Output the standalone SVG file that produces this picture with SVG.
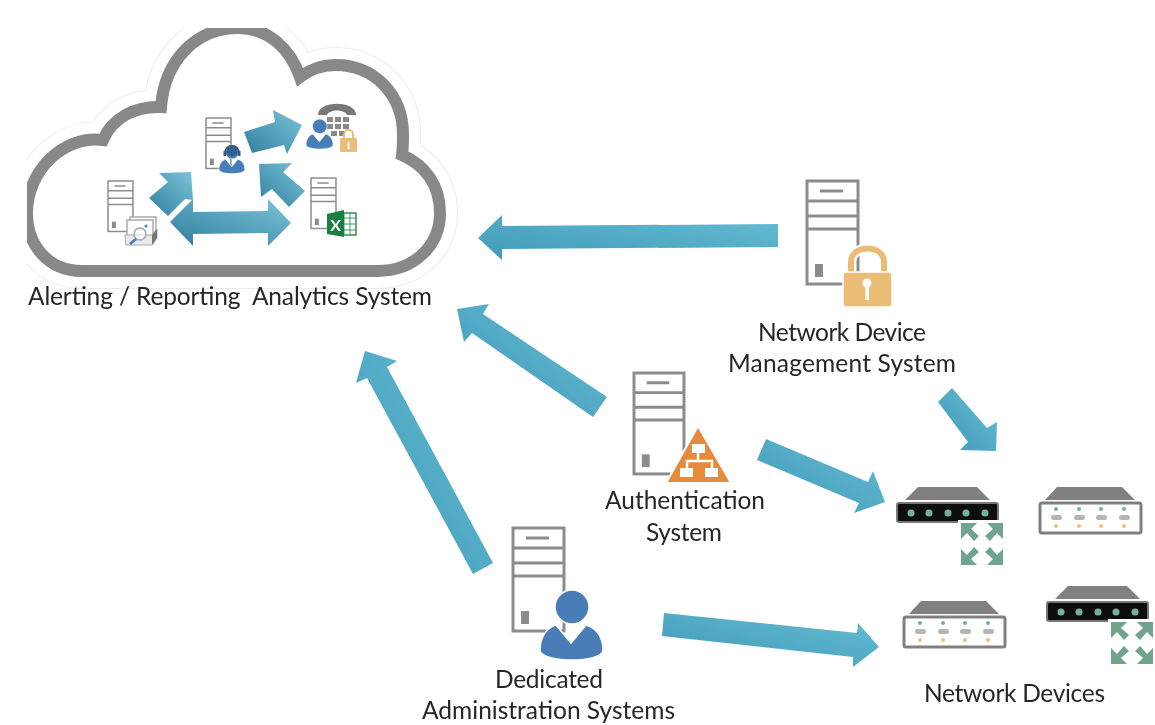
<svg xmlns="http://www.w3.org/2000/svg" xmlns:xlink="http://www.w3.org/1999/xlink" width="1155" height="725" viewBox="0 0 1155 725">
<style>
text{font-family:"Lato","Liberation Sans",sans-serif;font-size:24.500px;fill:#262626;text-anchor:middle}
.srv{fill:#fff;stroke:#8c8c8c;stroke-width:3}
.srvl{stroke:#8c8c8c;stroke-width:3;fill:none}
.blue{fill:#4a7db8;stroke:#fff;stroke-width:1.500}
.lock{fill:#e9bd74}
.m{fill:url(#gm)}
.s{fill:url(#gs)}
.dk{fill:#111;stroke:#777;stroke-width:2}
.lt{fill:#fff;stroke:#808080;stroke-width:3}
.top{fill:#808080}
.g{fill:#76b09a}.p{fill:#b5b5b5}.o{fill:#efc27a}
.ga{fill:#6fa48d}
</style>
<defs>
<filter id="soft" x="0" y="0" width="100%" height="100%"><feGaussianBlur stdDeviation="0.5"/></filter>
<linearGradient id="gm" x1="1" y1="0" x2="0" y2="1"><stop offset="0" stop-color="#66bcd3"/><stop offset="1" stop-color="#3f9ab8"/></linearGradient>
<linearGradient id="gs" x1="1" y1="0" x2="0" y2="1"><stop offset="0" stop-color="#7cc4d8"/><stop offset="1" stop-color="#2f7f9e"/></linearGradient>
<path id="cloudshape" d="M82,271 C48,271 27,245 27,213 C27,172 62,135 103,140 C112,118 135,106 161,107 C165,58 198,28 238,28 C268,28 290,48 300,77 C312,68 325,65 335,65 C375,65 403,95 403,135 C403,142 403,148 402,155 C425,165 440,185 440,213 C440,245 415,271 377,271 Z"/>
<g id="server">
<rect class="srv" x="0" y="0" width="51" height="103"/>
<path class="srvl" d="M0,20H51M0,35H51M0,48H51M13,10H36"/>
<rect x="8" y="83" width="8" height="13" fill="#8c8c8c"/>
</g>
<g id="person">
<path class="blue" d="M16,35 L31,53 L46,35 C57,38 63,48 63,60 C63,67 46,70 32,70 C18,70 0,67 0,60 C0,48 6,38 16,35Z"/>
<circle class="blue" cx="32" cy="17" r="17"/>
</g>
<g id="grow"><polygon class="ga" points="3,3 19,3 13,9 21,16 16,21 9,13 3,19"/></g>
<g id="expand">
<rect x="0" y="0" width="48" height="48" fill="#fff"/>
<use xlink:href="#grow"/>
<use xlink:href="#grow" transform="rotate(90 24 24)"/>
<use xlink:href="#grow" transform="rotate(180 24 24)"/>
<use xlink:href="#grow" transform="rotate(270 24 24)"/>
</g>
<g id="devdark">
<polygon class="top" points="22,0 81,0 94,13 9,13"/>
<rect class="dk" x="1" y="16" width="101" height="19" rx="2"/>
<g class="g"><circle cx="15" cy="26" r="3.500"/><circle cx="33" cy="26" r="3.500"/><circle cx="52" cy="26" r="3.500"/><circle cx="70" cy="26" r="3.500"/><circle cx="89" cy="26" r="3.500"/></g>
</g>
<g id="devlight">
<polygon class="top" points="18,0 83,0 96,13 6,13"/>
<rect class="lt" x="1" y="16" width="101" height="30" rx="2"/>
<g class="g"><circle cx="17" cy="22" r="2"/><circle cx="40" cy="22" r="2"/><circle cx="62" cy="22" r="2"/><circle cx="85" cy="22" r="2"/></g>
<g class="p"><rect x="12" y="28" width="11" height="5" rx="2.500"/><rect x="35" y="28" width="11" height="5" rx="2.500"/><rect x="57" y="28" width="11" height="5" rx="2.500"/><rect x="80" y="28" width="11" height="5" rx="2.500"/></g>
<g class="o"><circle cx="17" cy="39" r="2"/><circle cx="40" cy="39" r="2"/><circle cx="62" cy="39" r="2"/><circle cx="85" cy="39" r="2"/></g>
</g>
</defs>
<rect width="1155" height="725" fill="#fff"/>
<g filter="url(#soft)">
<g id="cloud">
<use xlink:href="#cloudshape" fill="#fff" stroke="#ececec" stroke-width="36" stroke-linejoin="round"/>
<use xlink:href="#cloudshape" fill="#fff" stroke="#fff" stroke-width="34" stroke-linejoin="round"/>
<use xlink:href="#cloudshape" fill="#fff" stroke="#888" stroke-width="12"/>
<text x="230" y="305" textLength="404" xml:space="preserve">Alerting / Reporting  Analytics System</text>
</g>

<g id="search-server">
<use xlink:href="#server" transform="translate(108,181) scale(.49)"/>
<rect x="130" y="217" width="26" height="20" fill="#fff" stroke="#aaa" stroke-width="1.500"/>
<rect x="127" y="220" width="26" height="20" fill="#fff" stroke="#aaa" stroke-width="1.500"/>
<path d="M125,235H152L157,229V238L152,245H126Z" fill="#e9e9e9" stroke="#aaa"/>
<path d="M152,235V245L157,238V229Z" fill="#777"/>
<circle cx="140" cy="234" r="6" fill="#fff" fill-opacity=".6" stroke="#9ab" stroke-width="1.500"/>
<path d="M136,239L130,244" stroke="#3a7fc0" stroke-width="2.500"/>
<circle cx="146" cy="226" r="1.500" fill="#3a7fc0"/>
</g>

<g id="agent-server">
<use xlink:href="#server" transform="translate(206,118) scale(.49)"/>
<use xlink:href="#person" transform="translate(219,145) scale(.41)"/>
<path d="M225,154 C224,143 240,143 239,154" fill="none" stroke="#444" stroke-width="1.500"/>
<rect x="223.500" y="151" width="2.500" height="5" fill="#3b5c80"/><rect x="238" y="151" width="2.500" height="5" fill="#3b5c80"/>
<circle cx="232" cy="151" r="5.500" fill="#2f5f99"/>
</g>

<g id="phone-user">
<path d="M318,115 C318,100 356,100 356,115 L347,115 C345,109 329,109 327,115Z" fill="#777"/>
<g fill="#8a8a8a">
<rect x="327" y="117" width="6" height="5"/><rect x="335" y="117" width="6" height="5"/><rect x="343" y="117" width="6" height="5"/>
<rect x="327" y="124" width="6" height="5"/><rect x="335" y="124" width="6" height="5"/><rect x="343" y="124" width="6" height="5"/>
<rect x="331" y="131" width="6" height="5"/><rect x="339" y="131" width="6" height="5"/>
</g>
<use xlink:href="#person" transform="translate(306,119) scale(.43)"/>
<path d="M344,139 V135 C344,128 353,128 353,135 V139" fill="#fff" stroke="#e9bd74" stroke-width="2"/>
<rect class="lock" x="340" y="138" width="17" height="14" rx="1"/>
<rect x="347.500" y="142" width="2" height="7" fill="#fff"/>
</g>

<g id="excel-server">
<use xlink:href="#server" transform="translate(311,178) scale(.49)"/>
<rect x="338" y="213" width="18" height="22" fill="#fff" stroke="#2f8a55" stroke-width="1.500"/>
<path d="M344,213V235M350,213V235M338,218H356M338,224H356M338,230H356" stroke="#3f9b63"/>
<polygon points="327,214 344,210 344,237 327,234" fill="#1e7e45"/>
<text x="335.500" y="231" style="font-size:16px;fill:#fff;font-weight:700">X</text>
</g>

<g id="ndms">
<use xlink:href="#server" transform="translate(807,181)"/>
<path d="M851,274 V262 C851,244 884,244 884,262 V274" fill="none" stroke="#fff" stroke-width="10"/>
<path d="M851,274 V262 C851,244 884,244 884,262 V274" fill="none" stroke="#e9bd74" stroke-width="6"/>
<rect class="lock" x="843" y="272" width="49" height="35" rx="3" stroke="#fff" stroke-width="1.500"/>
<circle cx="867" cy="283" r="4.500" fill="#fff"/>
<rect x="865.500" y="284" width="3.500" height="16" fill="#fff"/>
<text x="842" y="341" textLength="168">Network Device</text>
<text x="842" y="372" textLength="228">Management System</text>
</g>

<g id="auth">
<use xlink:href="#server" transform="translate(634,373) scale(.98)"/>
<polygon points="698,426 731,483 666,483" fill="#e68a3a" stroke="#fff" stroke-width="2" stroke-linejoin="round"/>
<path d="M698,450V461M687,472V461H712V472" stroke="#fff" stroke-width="2.500" fill="none"/>
<g fill="#fff"><rect x="692" y="444" width="13" height="9"/><rect x="680" y="468" width="13" height="9"/><rect x="705" y="468" width="13" height="9"/></g>
<text x="685" y="509" textLength="160">Authentication</text>
<text x="684" y="541" textLength="76">System</text>
</g>

<g id="admin">
<use xlink:href="#server" transform="translate(513,528)"/>
<use xlink:href="#person" transform="translate(540,590)"/>
<text x="549" y="688" textLength="108">Dedicated</text>
<text x="548.500" y="719" textLength="253">Administration Systems</text>
</g>

<g id="device-1">
<use xlink:href="#devdark" transform="translate(896,487)"/>
<use xlink:href="#expand" transform="translate(958,520)"/>
</g>
<g id="device-2"><use xlink:href="#devlight" transform="translate(1039,487)"/></g>
<g id="device-3"><use xlink:href="#devlight" transform="translate(903,601)"/></g>
<g id="device-4">
<use xlink:href="#devdark" transform="translate(1046,586)"/>
<use xlink:href="#expand" transform="translate(1108,619)"/>
</g>
<g id="network-devices-label"><text x="1014.500" y="702" textLength="181">Network Devices</text></g>

<g id="connectors">
<polygon class="m" points="778,224 778,247 502,249 502,260 478,238 502,215 502,226"/>
<polygon class="m" points="607,397 593,417 472,333 464,342 457,309 489,304 483,314"/>
<polygon class="m" points="493,563 473,574 367,378 356,383 365,351 397,361 387,367"/>
<polygon class="m" points="938,402 952,388 987,428 997,422 996,451 960,450 968,442"/>
<polygon class="m" points="766,439 757,460 859,503 854,513 885,502 873,471 868,482"/>
<polygon class="m" points="664,613 662,636 853,657 853,667 879,647 858,623 857,633"/>
<polygon class="s" points="149,198 168,216 185,199 193,200 191,172 159,173 168,182"/>
<polygon class="s" points="170,222 193,199 193,212 268,211 268,199 291,223 268,246 268,233 193,234 193,246"/>
<polygon class="s" points="244,132 252,153 284,145 287,154 302,125 273,110 275,122"/>
<polygon class="s" points="305,191 289,207 272,189 261,197 259,164 292,163 283,172"/>
</g>
</g>
</svg>
